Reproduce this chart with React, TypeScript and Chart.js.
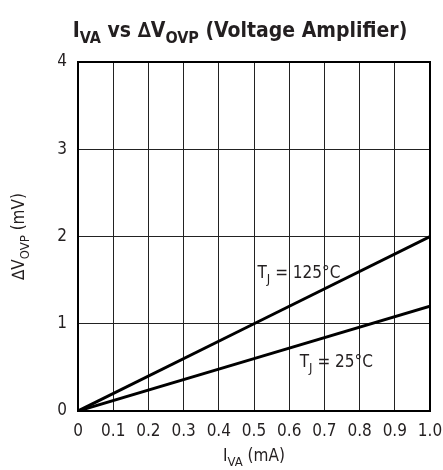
import React, { useEffect, useRef } from "react";
import { Chart, registerables } from "chart.js";

Chart.register(...registerables);

const IVA_MA = [0, 0.5, 1.0];
const DV_125C = [0, 1.0, 2.0];
const DV_25C = [0, 0.6, 1.2];
const X_TICKS = ["0", "0.1", "0.2", "0.3", "0.4", "0.5", "0.6", "0.7", "0.8", "0.9", "1.0"];
const Y_TICKS = ["0", "1", "2", "3", "4"];
const LABEL_125 = "125°C";
const LABEL_25 = "25°C";

const FONT = "'Liberation Sans Narrow', 'DejaVu Sans Condensed', 'Liberation Sans', sans-serif";

type Seg = { t: string; sub?: boolean };

function drawSegs(ctx: CanvasRenderingContext2D, segs: Seg[], x: number, y: number, size: number, weight: string, align: "left" | "center") {
  const subSize = Math.round(size * 0.78);
  const widths = segs.map((s) => {
    ctx.font = `${weight} ${s.sub ? subSize : size}px ${FONT}`;
    return ctx.measureText(s.t).width;
  });
  const total = widths.reduce((a, b) => a + b, 0);
  let cx = align === "center" ? x - total / 2 : x;
  ctx.textAlign = "left";
  ctx.textBaseline = "alphabetic";
  segs.forEach((s, i) => {
    ctx.font = `${weight} ${s.sub ? subSize : size}px ${FONT}`;
    ctx.fillText(s.t, cx, s.sub ? y + size * 0.28 : y);
    cx += widths[i];
  });
}

const textPlugin = {
  id: "customText",
  beforeDatasetsDraw(chart: any) {
    const { ctx, chartArea } = chart;
    ctx.save();
    ctx.strokeStyle = "#000";
    ctx.lineWidth = 2;
    ctx.strokeRect(chartArea.left, chartArea.top, chartArea.right - chartArea.left, chartArea.bottom - chartArea.top);
    ctx.restore();
  },
  afterDraw(chart: any) {
    const { ctx, chartArea, scales } = chart;
    ctx.save();
    ctx.fillStyle = "#231f20";
    // Title
    drawSegs(ctx, [{ t: "I" }, { t: "VA", sub: true }, { t: " vs ∆V" }, { t: "OVP", sub: true }, { t: " (Voltage Amplifier)" }], 240, 37, 21, "bold", "center");
    // X axis title
    drawSegs(ctx, [{ t: "I" }, { t: "VA", sub: true }, { t: " (mA)" }], (chartArea.left + chartArea.right) / 2, 461, 17, "normal", "center");
    // Y axis title
    ctx.save();
    ctx.translate(24, (chartArea.top + chartArea.bottom) / 2);
    ctx.rotate(-Math.PI / 2);
    drawSegs(ctx, [{ t: "∆V" }, { t: "OVP", sub: true }, { t: " (mV)" }], 0, 0, 17, "normal", "center");
    ctx.restore();
    // Curve labels
    const xs = scales.x, ys = scales.y;
    drawSegs(ctx, [{ t: "T" }, { t: "J", sub: true }, { t: " = " + LABEL_125 }], xs.getPixelForValue(0.51), ys.getPixelForValue(1.52), 17, "normal", "left");
    drawSegs(ctx, [{ t: "T" }, { t: "J", sub: true }, { t: " = " + LABEL_25 }], xs.getPixelForValue(0.63), ys.getPixelForValue(0.505), 17, "normal", "left");
    ctx.restore();
  },
};

export default function App() {
  const ref = useRef<HTMLCanvasElement>(null);
  useEffect(() => {
    if (!ref.current) return;
    const chart = new Chart(ref.current, {
      type: "line",
      data: {
        datasets: [
          {
            label: "TJ = 125°C",
            data: IVA_MA.map((x, i) => ({ x, y: DV_125C[i] })),
            borderColor: "#000",
            borderWidth: 3,
            pointRadius: 0,
            tension: 0,
          },
          {
            label: "TJ = 25°C",
            data: IVA_MA.map((x, i) => ({ x, y: DV_25C[i] })),
            borderColor: "#000",
            borderWidth: 3,
            pointRadius: 0,
            tension: 0,
          },
        ],
      },
      plugins: [textPlugin],
      options: {
        animation: false,
        responsive: false,
        devicePixelRatio: 1,
        layout: { padding: { top: 62, right: 13, left: 0, bottom: 0 } },
        plugins: { legend: { display: false }, title: { display: false }, tooltip: { enabled: false } },
        scales: {
          x: {
            type: "linear",
            min: 0,
            max: 1,
            afterFit: (s: any) => { s.height = 59; s.paddingLeft = 0; s.paddingRight = 0; },
            afterBuildTicks: (s: any) => { s.ticks = X_TICKS.map((t) => ({ value: parseFloat(t) })); },
            ticks: {
              callback: (v: any, i: number) => X_TICKS[i],
              color: "#231f20",
              font: { family: FONT, size: 17 },
              padding: 10,
              maxRotation: 0,
              autoSkip: false,
            },
            grid: { color: "#222", lineWidth: 1, drawTicks: false },
            border: { display: false },
          },
          y: {
            type: "linear",
            min: 0,
            max: 4,
            afterFit: (s: any) => { s.width = 78; s.paddingTop = 0; s.paddingBottom = 0; },
            afterBuildTicks: (s: any) => { s.ticks = Y_TICKS.map((t) => ({ value: parseFloat(t) })); },
            ticks: {
              callback: (v: any, i: number) => Y_TICKS[i],
              color: "#231f20",
              font: { family: FONT, size: 17 },
              padding: 11,
            },
            grid: { color: "#222", lineWidth: 1, drawTicks: false },
            border: { display: false },
          },
        },
      },
    });
    return () => chart.destroy();
  }, []);
  return (
    <div style={{ position: "fixed", left: 0, top: 0, width: 443, height: 470, background: "#fff" }}>
      <canvas ref={ref} width={443} height={470} />
    </div>
  );
}
